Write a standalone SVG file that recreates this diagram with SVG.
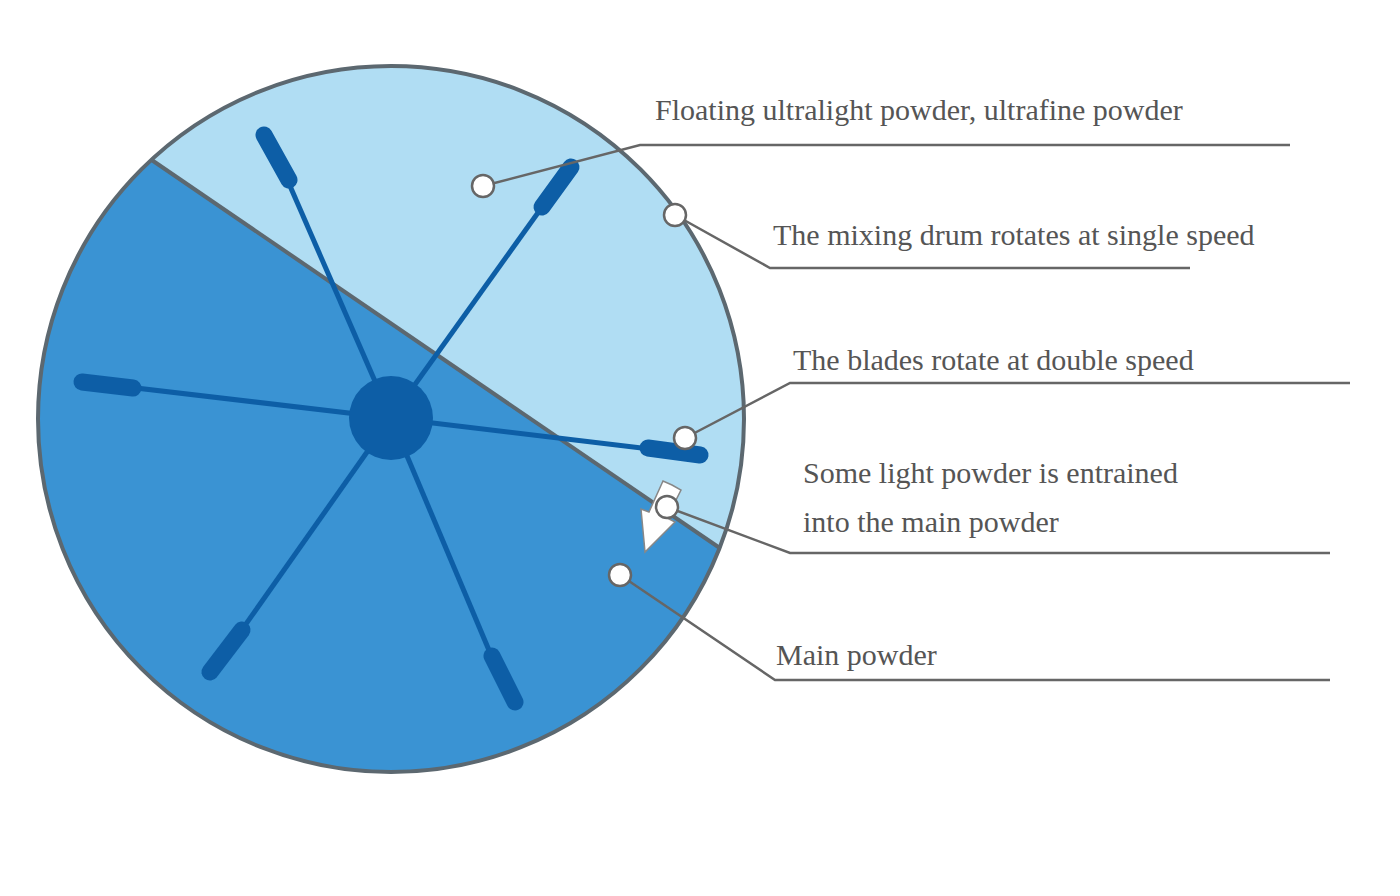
<svg xmlns="http://www.w3.org/2000/svg" width="1400" height="896" viewBox="0 0 1400 896">
<style>
.t{font-family:"Liberation Serif",serif;font-size:30px;fill:#555}
.ld{fill:none;stroke:#666;stroke-width:2.5}
.mk{fill:#fff;stroke:#666;stroke-width:2.5}
.arm{stroke:#0d5ea6;stroke-width:5}
.hd{stroke:#0d5ea6;stroke-width:17;stroke-linecap:round}
</style>
<defs><clipPath id="c"><circle cx="391" cy="419" r="353"/></clipPath></defs>
<rect width="1400" height="896" fill="#fff"/>
<g id="drum">
<circle cx="391" cy="419" r="353" fill="#3a93d3"/>
<polygon clip-path="url(#c)" points="152,160 720,548 800,548 800,0 0,0 0,56" fill="#b0ddf3"/>
<line clip-path="url(#c)" x1="140" y1="152" x2="730" y2="555" stroke="#5c6870" stroke-width="4"/>
<circle cx="391" cy="419" r="353" fill="none" stroke="#5c6870" stroke-width="4"/>
</g>
<g id="blades">
<line class="arm" x1="391" y1="418" x2="270" y2="140"/>
<line class="arm" x1="391" y1="418" x2="565" y2="175"/>
<line class="arm" x1="391" y1="418" x2="85" y2="382"/>
<line class="arm" x1="391" y1="418" x2="700" y2="455"/>
<line class="arm" x1="391" y1="418" x2="215" y2="668"/>
<line class="arm" x1="391" y1="418" x2="510" y2="700"/>
<line class="hd" x1="264" y1="135" x2="289" y2="180"/>
<line class="hd" x1="571" y1="167" x2="542" y2="207"/>
<line class="hd" x1="82" y1="382" x2="133" y2="388"/>
<line class="hd" x1="648" y1="448" x2="700" y2="455"/>
<line class="hd" x1="242" y1="630" x2="210" y2="672"/>
<line class="hd" x1="492" y1="656" x2="515" y2="702"/>
<circle cx="391" cy="418" r="42" fill="#0d5ea6"/>
</g>
<g id="arrow">
<polygon points="672,485 681,490 667,518 675,522 645,552 641,509 649,512 663,481" fill="#fff" stroke="#888" stroke-width="1.5"/>
</g>
<g id="connectors">
<polyline class="ld" points="483,186 640,145 1290,145"/>
<polyline class="ld" points="675,215 770,268 1190,268"/>
<polyline class="ld" points="685,438 790,383 1350,383"/>
<polyline class="ld" points="667,507 790,553 1330,553"/>
<polyline class="ld" points="620,575 775,680 1330,680"/>
</g>
<g id="markers">
<circle class="mk" cx="483" cy="186" r="11"/>
<circle class="mk" cx="675" cy="215" r="11"/>
<circle class="mk" cx="685" cy="438" r="11"/>
<circle class="mk" cx="667" cy="507" r="11"/>
<circle class="mk" cx="620" cy="575" r="11"/>
</g>
<g id="labels">
<text class="t" x="655" y="120">Floating ultralight powder, ultrafine powder</text>
<text class="t" x="773" y="245">The mixing drum rotates at single speed</text>
<text class="t" x="793" y="370">The blades rotate at double speed</text>
<text class="t" x="803" y="483">Some light powder is entrained</text>
<text class="t" x="803" y="532">into the main powder</text>
<text class="t" x="776" y="665">Main powder</text>
</g>
</svg>
